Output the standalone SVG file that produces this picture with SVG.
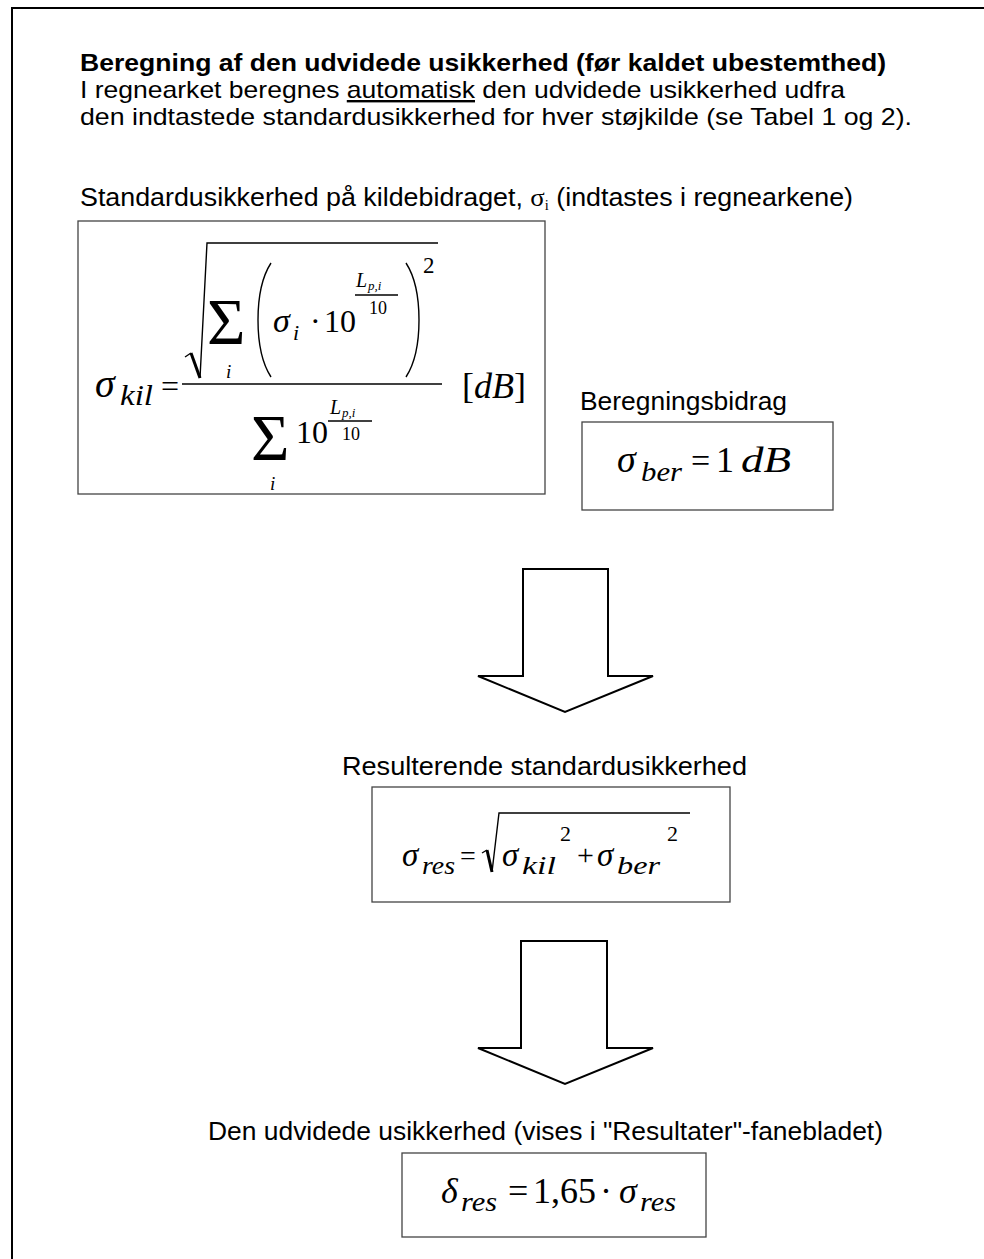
<svg xmlns="http://www.w3.org/2000/svg" width="984" height="1259" viewBox="0 0 984 1259">
  <style>
    .txt { font-family: "Liberation Sans", Arial, sans-serif; font-size: 26px; fill: #000; }
    .head { font-size: 24px; }
    .bold { font-weight: bold; }
    .m { font-family: "Liberation Serif", "Times New Roman", serif; fill: #000; }
    .it { font-style: italic; }
    .box { fill: #fff; stroke: #444; stroke-width: 1.3; }
    .rule { stroke: #000; stroke-width: 1.4; fill: none; }
    .arrow { fill: #fff; stroke: #000; stroke-width: 2; stroke-linejoin: miter; }
  </style>

  <rect x="0" y="0" width="984" height="1259" fill="#fff"/>
  <!-- page frame (only top and left edges fall inside the canvas) -->
  <path d="M12,1259 V8 H984" fill="none" stroke="#000" stroke-width="2"/>

  <!-- heading -->
  <g id="heading">
    <text class="txt head bold" x="80" y="71" textLength="806" lengthAdjust="spacingAndGlyphs">Beregning af den udvidede usikkerhed (før kaldet ubestemthed)</text>
    <text class="txt head" x="80" y="98" textLength="765" lengthAdjust="spacingAndGlyphs">I regnearket beregnes <tspan text-decoration="underline">automatisk</tspan> den udvidede usikkerhed udfra</text>
    <text class="txt head" x="80" y="125" textLength="832" lengthAdjust="spacingAndGlyphs">den indtastede standardusikkerhed for hver støjkilde (se Tabel 1 og 2).</text>
  </g>

  <!-- source contribution -->
  <g id="kilde">
    <text class="txt" x="80" y="206" textLength="773" lengthAdjust="spacingAndGlyphs">Standardusikkerhed på kildebidraget, <tspan class="m" font-size="26">σ</tspan><tspan class="m" font-size="14" dy="4">i</tspan><tspan dy="-4"> (indtastes i regnearkene)</tspan></text>
    <rect class="box" x="78" y="221" width="467" height="273"/>
    <!-- sigma_kil = -->
    <text class="m it" x="95" y="397" font-size="40">σ</text>
    <text class="m it" x="120" y="405" font-size="29" textLength="33" lengthAdjust="spacingAndGlyphs">kil</text>
    <text class="m" x="161" y="397" font-size="32">=</text>
    <!-- numerator: square root -->
    <path class="rule" d="M185,357 L191,353"/>
    <path d="M191,353 L200,378" stroke="#000" stroke-width="3" fill="none"/>
    <path class="rule" d="M200,378 L207,243 H438"/>
    <text class="m" x="207" y="344" font-size="66">Σ</text>
    <text class="m it" x="226" y="378" font-size="19">i</text>
    <path class="rule" d="M271,263 C260,280 258,300 258,320 C258,340 260,360 271,377"/>
    <text class="m it" x="273" y="332" font-size="34">σ</text>
    <text class="m it" x="293" y="340" font-size="22">i</text>
    <text class="m" x="310" y="332" font-size="32">·</text>
    <text class="m" x="324" y="332" font-size="32">10</text>
    <text class="m it" x="356" y="287" font-size="20">L</text>
    <text class="m it" x="368" y="290" font-size="13">p,i</text>
    <path class="rule" d="M355,295 H398" stroke-width="1"/>
    <text class="m" x="369" y="314" font-size="18">10</text>
    <path class="rule" d="M406,263 C417,280 419,300 419,320 C419,340 417,360 406,377"/>
    <text class="m" x="423" y="273" font-size="23">2</text>
    <!-- fraction bar -->
    <path class="rule" d="M182,384 H442"/>
    <!-- denominator -->
    <text class="m" x="251" y="460" font-size="66">Σ</text>
    <text class="m it" x="270" y="490" font-size="19">i</text>
    <text class="m" x="296" y="443" font-size="32">10</text>
    <text class="m it" x="330" y="414" font-size="20">L</text>
    <text class="m it" x="342" y="417" font-size="13">p,i</text>
    <path class="rule" d="M328,421 H372" stroke-width="1"/>
    <text class="m" x="342" y="440" font-size="18">10</text>
    <!-- unit -->
    <text class="m" x="462" y="398" font-size="36">[<tspan class="it">dB</tspan>]</text>
  </g>

  <!-- calculation contribution -->
  <g id="beregning">
    <text class="txt" x="580" y="410" textLength="207" lengthAdjust="spacingAndGlyphs">Beregningsbidrag</text>
    <rect class="box" x="582" y="422" width="251" height="88"/>
    <text class="m it" x="617" y="472" font-size="38">σ</text>
    <text class="m it" x="641" y="481" font-size="28" textLength="41" lengthAdjust="spacingAndGlyphs">ber</text>
    <text class="m" x="691" y="472" font-size="34">=</text>
    <text class="m" x="716" y="472" font-size="36">1</text>
    <text class="m it" x="741" y="472" font-size="36" textLength="50" lengthAdjust="spacingAndGlyphs">dB</text>
  </g>

  <!-- flow arrows -->
  <g id="connectors">
    <path class="arrow" d="M523,569 H608 V676 H653 L565,712 L478,676 H523 Z"/>
    <path class="arrow" d="M521,941 H607 V1048 H653 L565,1084 L478,1048 H521 Z"/>
  </g>

  <!-- combined standard uncertainty -->
  <g id="resulterende">
    <text class="txt" x="342" y="775" textLength="405" lengthAdjust="spacingAndGlyphs">Resulterende standardusikkerhed</text>
    <rect class="box" x="372" y="787" width="358" height="115"/>
    <text class="m it" x="402" y="866" font-size="33">σ</text>
    <text class="m it" x="422" y="874" font-size="25" textLength="33" lengthAdjust="spacingAndGlyphs">res</text>
    <text class="m" x="460" y="865" font-size="28">=</text>
    <path class="rule" d="M482,853 L487,850"/>
    <path d="M487,850 L492,872" stroke="#000" stroke-width="3" fill="none"/>
    <path class="rule" d="M492,872 L499,813 H690"/>
    <text class="m it" x="502" y="866" font-size="33">σ</text>
    <text class="m it" x="522" y="874" font-size="25" textLength="34" lengthAdjust="spacingAndGlyphs">kil</text>
    <text class="m" x="560" y="841" font-size="22">2</text>
    <text class="m" x="577" y="865" font-size="30">+</text>
    <text class="m it" x="597" y="866" font-size="33">σ</text>
    <text class="m it" x="617" y="874" font-size="25" textLength="43" lengthAdjust="spacingAndGlyphs">ber</text>
    <text class="m" x="667" y="841" font-size="22">2</text>
  </g>

  <!-- expanded uncertainty -->
  <g id="udvidet">
    <text class="txt" x="208" y="1140" textLength="675" lengthAdjust="spacingAndGlyphs">Den udvidede usikkerhed (vises i "Resultater"-fanebladet)</text>
    <rect class="box" x="402" y="1153" width="304" height="84"/>
    <text class="m it" x="441" y="1203" font-size="36">δ</text>
    <text class="m it" x="461" y="1211" font-size="28" textLength="36" lengthAdjust="spacingAndGlyphs">res</text>
    <text class="m" x="508" y="1203" font-size="36">=</text>
    <text class="m" x="533" y="1203" font-size="36">1,65</text>
    <text class="m" x="600" y="1203" font-size="36">·</text>
    <text class="m it" x="619" y="1203" font-size="36">σ</text>
    <text class="m it" x="640" y="1211" font-size="28" textLength="36" lengthAdjust="spacingAndGlyphs">res</text>
  </g>
</svg>
